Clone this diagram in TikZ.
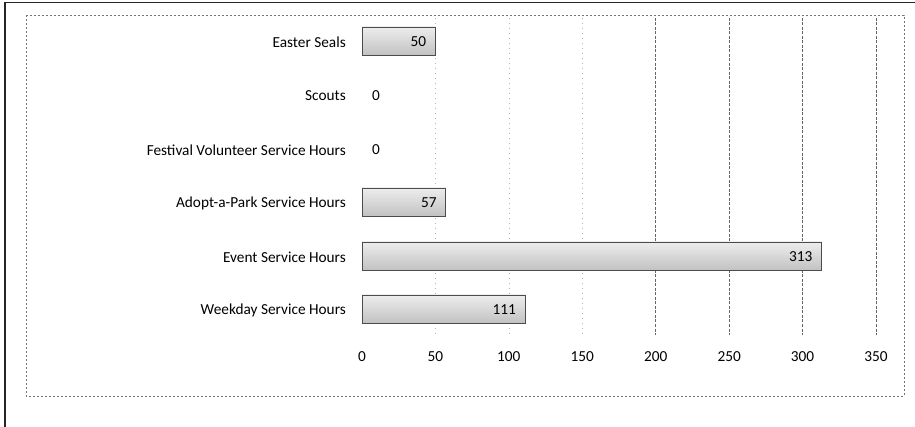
\documentclass[tikz,border=0pt]{standalone}
\usepackage{fontspec}
\setmainfont{Carlito}
\begin{document}
\begin{tikzpicture}[x=1pt,y=-1pt,
  font=\fontsize{15.3}{17}\selectfont,
  frameline/.style={line width=1.6pt,black!85},
  plotarea/.style={dash pattern=on 2pt off 2pt,black!55,line width=0.5pt},
  gridfaint/.style={dash pattern=on 1pt off 4pt,black!30,line width=0.5pt},
  gridmain/.style={dash pattern=on 3pt off 1.5pt,black!60,line width=0.8pt},
  barbox/.style={draw=black!70,line width=0.8pt,top color=black!7,bottom color=black!24},
  catlabel/.style={anchor=east,inner sep=0pt},
  vallabel/.style={anchor=east,inner sep=0pt},
  ticklabel/.style={anchor=center,inner sep=0pt}]
\useasboundingbox (0,0) rectangle (915,427);
\fill[white] (0,0) rectangle (915,427);
% outer frame
\draw[frameline] (5,427) -- (5,2.5) -- (915,2.5);
% plot area
\draw[plotarea] (26,15) rectangle (904,396);
% vertical grid lines (0 at x=362, 1.4686 per unit)
\foreach \v in {50,100,150}
  \draw[gridfaint] ({362+1.4686*\v},18) -- ({362+1.4686*\v},335);
\foreach \v in {200,250,300,350}
  \draw[gridmain] ({362+1.4686*\v},18) -- ({362+1.4686*\v},335);
% axis tick labels
\foreach \v in {0,50,...,350}
  \node[ticklabel] (t\v) at ({362+1.4686*\v},357) {\v};
% bars: category, value, row centre
\foreach \name/\val/\yc [count=\i] in {
  Easter Seals/50/42,
  Scouts/0/96,
  Festival Volunteer Service Hours/0/150,
  Adopt-a-Park Service Hours/57/203,
  Event Service Hours/313/257,
  Weekday Service Hours/111/310} {
  \node[catlabel] (c\i) at (346,\yc) {\name};
  \ifnum\val>0
    \draw[barbox] (362,\yc-15) rectangle ({362+1.4686*\val},\yc+13);
    \node[vallabel] (v\i) at ({362+1.4686*\val-9},\yc) {\val};
  \else
    \node[anchor=west,inner sep=0pt] (v\i) at (372,\yc) {\val};
  \fi
}
\end{tikzpicture}
\end{document}
